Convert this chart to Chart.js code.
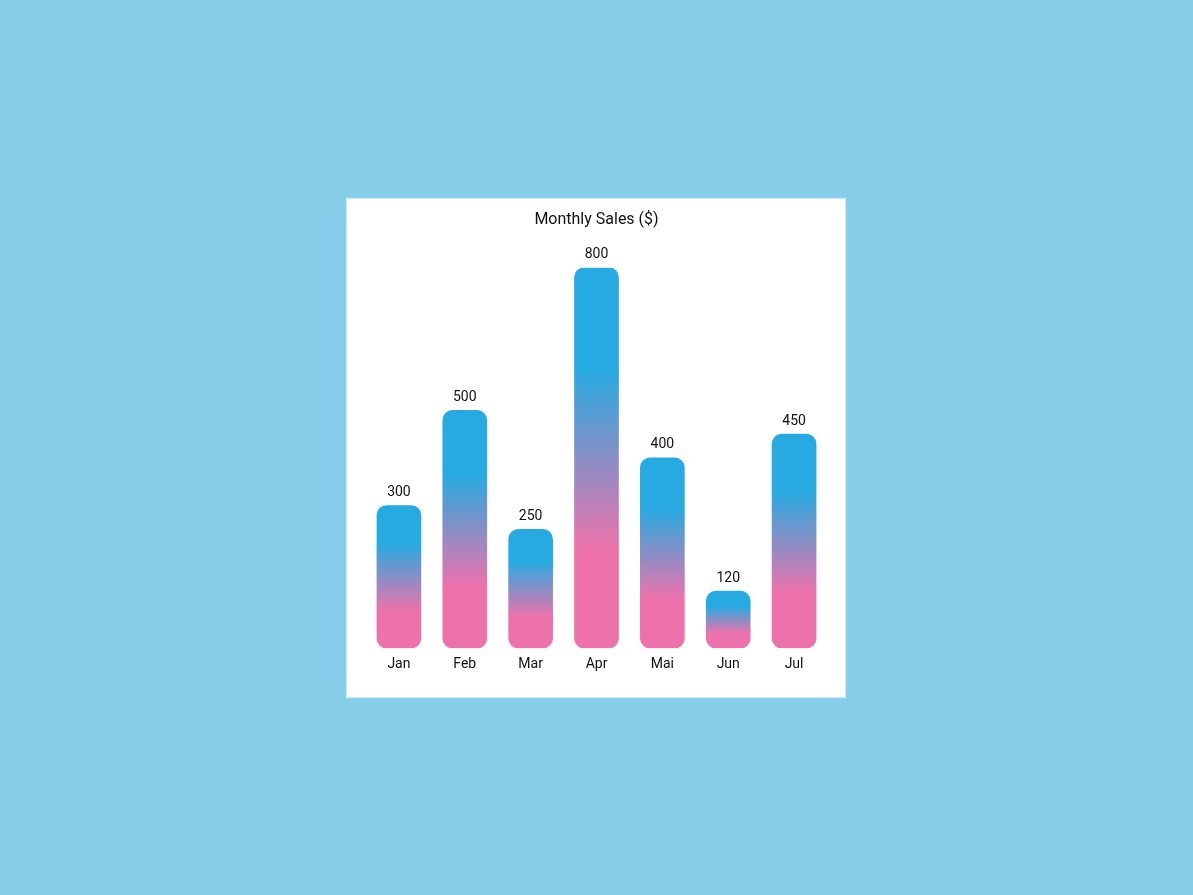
<!DOCTYPE html>
<html>
<head>
<meta charset="utf-8">
<script src="https://cdn.jsdelivr.net/npm/chart.js@4"></script>
<style>
  html, body { margin: 0; padding: 0; background: #87CEEB; width: 1193px; height: 895px; overflow: hidden; }
  #box { position: absolute; left: 346px; top: 198px; width: 500px; height: 500px; background: #fff; box-shadow: inset 0 0 0 1px #d4ecf7; }
  #box canvas { position: absolute; left: 0; top: 0; }
</style>
</head>
<body>
<div id="box"><canvas id="c" width="500" height="500"></canvas></div>
<script>
const categories = ['Jan', 'Feb', 'Mar', 'Apr', 'Mai', 'Jun', 'Jul'];
const sales = [300, 500, 250, 800, 400, 120, 450];
const titleText = 'Monthly Sales ($)';
const blue = '#27AAE1';
const pink = '#ED72AB';

const valueLabels = {
  id: 'valueLabels',
  afterDatasetsDraw(chart) {
    const ctx = chart.ctx;
    const meta = chart.getDatasetMeta(0);
    ctx.save();
    ctx.font = '14px Roboto';
    ctx.fillStyle = '#111';
    ctx.textAlign = 'center';
    ctx.textBaseline = 'middle';
    meta.data.forEach((bar, i) => {
      ctx.fillText(String(chart.data.datasets[0].data[i]), bar.x, bar.y - 13);
    });
    ctx.restore();
  }
};

function barGradient(context) {
  const chart = context.chart;
  const { ctx, chartArea, scales } = chart;
  if (!chartArea || !scales.y) return blue;
  const v = context.raw;
  const yBase = scales.y.getPixelForValue(0);
  const yTop = scales.y.getPixelForValue(v);
  if (!isFinite(yBase) || !isFinite(yTop) || yBase === yTop) return blue;
  const g = ctx.createLinearGradient(0, yBase, 0, yTop);
  g.addColorStop(0, pink);
  g.addColorStop(0.26, pink);
  g.addColorStop(0.73, blue);
  g.addColorStop(1, blue);
  return g;
}

new Chart(document.getElementById('c'), {
  type: 'bar',
  data: {
    labels: categories,
    datasets: [{
      label: 'Sales',
      data: sales,
      backgroundColor: barGradient,
      borderRadius: 10,
      borderSkipped: false,
      barThickness: 44
    }]
  },
  options: {
    responsive: false,
    animation: false,
    devicePixelRatio: 1,
    layout: { padding: { left: 20, right: 19, top: 2.5, bottom: 25 } },
    plugins: {
      legend: { display: false },
      tooltip: { enabled: false },
      title: {
        display: true,
        text: titleText,
        color: '#111',
        font: { family: 'Roboto', size: 16, weight: 'normal' },
        padding: { top: 10, bottom: 38 }
      }
    },
    scales: {
      x: {
        grid: { display: false },
        border: { display: false },
        ticks: { color: '#111', font: { family: 'Roboto', size: 14 }, padding: 0 }
      },
      y: {
        display: false,
        min: 0,
        max: 800
      }
    }
  },
  plugins: [valueLabels]
});
</script>
</body>
</html>
